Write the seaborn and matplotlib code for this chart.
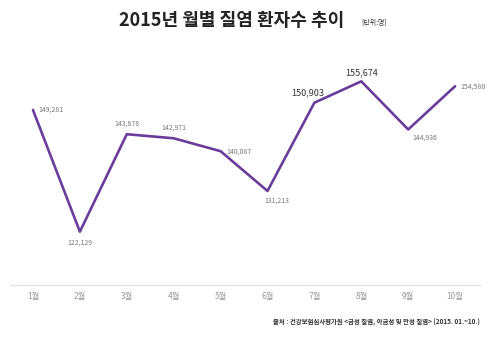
import matplotlib
matplotlib.use("Agg")
import matplotlib.pyplot as plt
import seaborn as sns
import pandas as pd

months = ["1월", "2월", "3월", "4월", "5월", "6월", "7월", "8월", "9월", "10월"]
patients = [149281, 122129, 143878, 142971, 140087, 131213, 150903, 155674, 144936, 154580]
highlight = [False, False, False, False, False, False, True, True, False, False]
title = "2015년 월별 질염 환자수 추이"
unit = "[단위:명]"
source = "출처 : 건강보험심사평가원 <급성 질염, 아급성 및 만성 질염> (2015. 01.~10.)"

sns.set_theme(style="white")
plt.rcParams['font.family'] = ['Noto Sans CJK KR', 'DejaVu Sans']

df = pd.DataFrame({"pos": list(range(1, len(months) + 1)), "val": patients})

fig = plt.figure(figsize=(4.88, 3.37), dpi=100)
ax = fig.add_axes([0.0205, 0.1543, 0.963, 0.6677])
sns.lineplot(data=df, x="pos", y="val", ax=ax, color="#6a3d9a", linewidth=1.9)

ax.set_xlim(0.51, 10.53)
ax.set_ylim(110237, 160437)
ax.set_xticks(df["pos"])
ax.set_xticklabels(months, fontsize=6, color="#999999")
ax.set_yticks([])
ax.set_xlabel("")
ax.set_ylabel("")
ax.tick_params(axis="x", length=0, pad=5)
for s in ["top", "right", "left"]:
    ax.spines[s].set_visible(False)
ax.spines["bottom"].set_color("#e4e4e4")
ax.spines["bottom"].set_linewidth(1.0)

# label offsets (points) and alignment
offsets = [(4, 0, "left", "center"), (0, -5, "center", "top"), (0, 5, "center", "bottom"),
           (0, 5, "center", "bottom"), (4, 0, "left", "center"), (-2, -4, "left", "top"),
           (-5, 4, "center", "bottom"), (0, 3, "center", "bottom"), (3, -3, "left", "top"),
           (4, 0, "left", "center")]
for p, v, hl, (dx, dy, ha, va) in zip(df["pos"], patients, highlight, offsets):
    ax.annotate(f"{v:,}", (p, v), xytext=(dx, dy), textcoords="offset points",
                ha=ha, va=va, fontsize=6.5 if hl else 5,
                color="#333333" if hl else "#777777")

fig.text(0.475, 0.94, title, ha="center", va="center", fontsize=13,
         fontweight="bold", color="#222222")
fig.text(0.766, 0.932, unit, ha="center", va="center", fontsize=5, color="#333333")
fig.text(0.983, 0.045, source, ha="right", va="center", fontsize=4.6,
         color="#333333", fontweight="bold")

fig.savefig("out.png", dpi=100)
